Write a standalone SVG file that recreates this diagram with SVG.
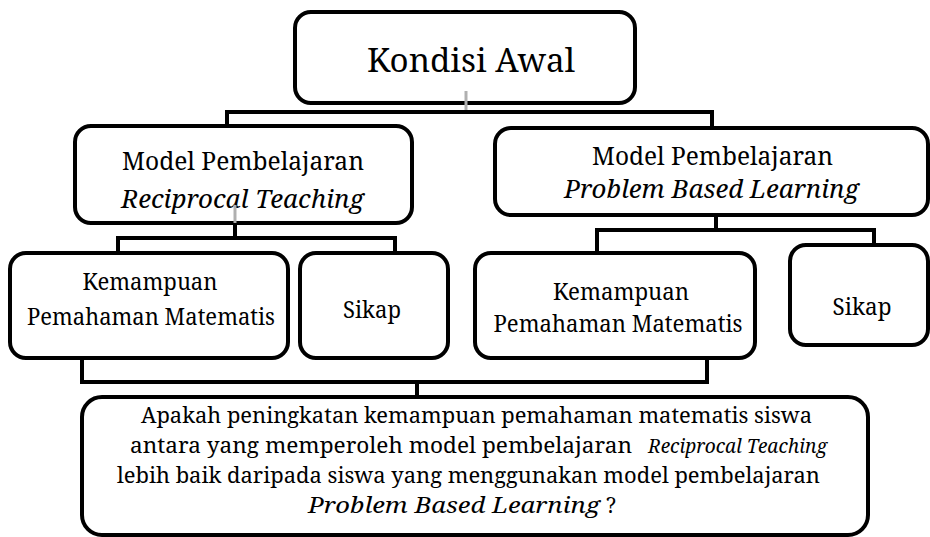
<svg xmlns="http://www.w3.org/2000/svg" width="930" height="537" viewBox="0 0 930 537">
<style>
.box{fill:#fff;stroke:#000;stroke-width:4}
.t{font-family:'Noto Serif','DejaVu Serif',serif;fill:#000;text-anchor:middle}
.s{text-anchor:start}
.i{font-style:italic}
.c{fill:none;stroke:#000;stroke-width:4}
.g{fill:none;stroke:#b0b0b0;stroke-width:3}
</style>
<rect width="930" height="537" fill="#fff"/>
<g id="connectors">
<path class="c" d="M227,127 V112 H712 V128"/>
<path class="c" d="M235,223 V238 M118,253 V238 H395 V253"/>
<path class="c" d="M716,215 V230 M597,253 V230 H874 V245"/>
<path class="c" d="M82,358 V382 H707 V358 M417,382 V397"/>
</g>
<g id="n0">
<rect class="box" x="295" y="12" width="340" height="91" rx="16"/>
<text class="t" x="471" y="72" font-size="33" textLength="208" lengthAdjust="spacingAndGlyphs">Kondisi Awal</text>
</g>
<g id="n1">
<rect class="box" x="75" y="126" width="337" height="97" rx="16"/>
<text class="t" x="243" y="170" font-size="26" textLength="242" lengthAdjust="spacingAndGlyphs">Model Pembelajaran</text>
<text class="t i" x="242.5" y="208" font-size="26" textLength="243" lengthAdjust="spacingAndGlyphs">Reciprocal Teaching</text>
</g>
<g id="n2">
<rect class="box" x="495" y="128" width="433" height="87" rx="16"/>
<text class="t" x="712.5" y="165" font-size="26" textLength="241" lengthAdjust="spacingAndGlyphs">Model Pembelajaran</text>
<text class="t i" x="711.5" y="198" font-size="26" textLength="295" lengthAdjust="spacingAndGlyphs">Problem Based Learning</text>
</g>
<g id="n3">
<rect class="box" x="10" y="253" width="278" height="105" rx="16"/>
<text class="t" x="150" y="290" font-size="24" textLength="135" lengthAdjust="spacingAndGlyphs">Kemampuan</text>
<text class="t" x="151" y="325" font-size="24" textLength="248" lengthAdjust="spacingAndGlyphs">Pemahaman Matematis</text>
</g>
<g id="n4">
<rect class="box" x="300" y="253" width="148" height="105" rx="16"/>
<text class="t" x="372" y="318" font-size="24" textLength="58" lengthAdjust="spacingAndGlyphs">Sikap</text>
</g>
<g id="n5">
<rect class="box" x="475" y="253" width="280" height="105" rx="16"/>
<text class="t" x="621" y="300" font-size="24" textLength="136" lengthAdjust="spacingAndGlyphs">Kemampuan</text>
<text class="t" x="618" y="332" font-size="24" textLength="249" lengthAdjust="spacingAndGlyphs">Pemahaman Matematis</text>
</g>
<g id="n6">
<rect class="box" x="790" y="245" width="138" height="100" rx="16"/>
<text class="t" x="862" y="315" font-size="24" textLength="59" lengthAdjust="spacingAndGlyphs">Sikap</text>
</g>
<g id="n7">
<rect class="box" x="82" y="397" width="786" height="138" rx="20"/>
<text class="t s" x="141" y="423" font-size="22" textLength="671" lengthAdjust="spacingAndGlyphs">Apakah peningkatan kemampuan pemahaman matematis siswa</text>
<text class="t s" x="130" y="453" font-size="22" textLength="502" lengthAdjust="spacingAndGlyphs">antara yang memperoleh model pembelajaran</text>
<text class="t s i" x="648" y="453" font-size="19" textLength="179" lengthAdjust="spacingAndGlyphs">Reciprocal Teaching</text>
<text class="t s" x="117" y="483" font-size="22" textLength="703" lengthAdjust="spacingAndGlyphs">lebih baik daripada siswa yang menggunakan model pembelajaran</text>
<text class="t s i" x="308" y="513" font-size="22" textLength="292" lengthAdjust="spacingAndGlyphs">Problem Based Learning</text>
<text class="t s" x="606" y="513" font-size="22" textLength="10" lengthAdjust="spacingAndGlyphs">?</text>
</g>
<g id="stubs">
<path class="g" d="M466,91 V110"/>
<path class="g" d="M235,205 V223"/>
</g>
</svg>
